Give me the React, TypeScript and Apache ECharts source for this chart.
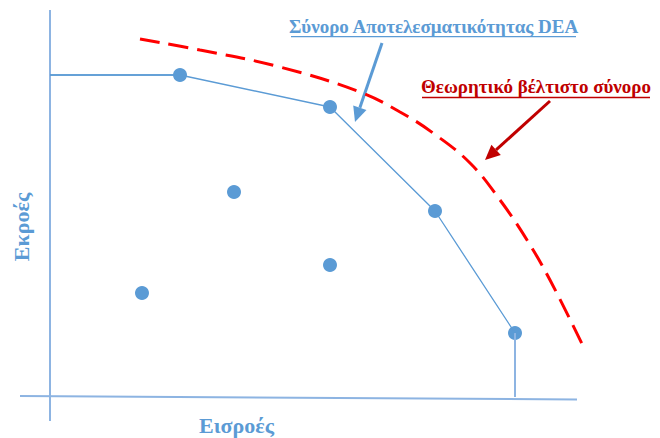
import React, { useEffect, useRef } from "react";
import * as echarts from "echarts";

// Conceptual units: origin at axes crossing
const axisVertical: [number, number][] = [[0, -4.8], [0, 77.4]];
const axisHorizontal: [number, number][] = [[-6, 0.2], [105.4, -0.5]];

const frontierLine: [number, number][] = [
  [0, 64.4], [26, 64.4], [56, 58], [77, 37.2], [93, 12.8], [93, 0],
];
const frontierUnits: [number, number][] = [
  [26, 64.4], [56, 58], [77, 37.2], [93, 12.8],
];
const otherUnits: [number, number][] = [
  [36.8, 41], [18.4, 20.8], [56, 26.4],
];
const theoreticalFrontier: [number, number][] = [
  [18, 71.6], [30, 69.4], [46, 66], [62, 61], [70, 57], [76.6, 52.8],
  [84, 46.8], [90, 39.4], [95.4, 31.4], [100, 23.4], [107, 9.4],
];

const labelDEA = "Σύνορο Αποτελεσματικότητας DEA";
const labelTheory = "Θεωρητικό βέλτιστο σύνορο";
const labelY = "Εκροές";
const labelX = "Εισροές";

const BLUE = "#5B9BD5";
const AXIS = "#8DB4E2";
const DARKRED = "#C00000";

function arrow(x1: number, y1: number, x2: number, y2: number, color: string, w: number, headLen: number, headW: number) {
  const dx = x2 - x1, dy = y2 - y1;
  const len = Math.sqrt(dx * dx + dy * dy);
  const ux = dx / len, uy = dy / len;
  const bx = x2 - ux * headLen, by = y2 - uy * headLen;
  const px = -uy * headW / 2, py = ux * headW / 2;
  return [
    { type: "line", shape: { x1, y1, x2: bx, y2: by }, style: { stroke: color, lineWidth: w } },
    { type: "polygon", shape: { points: [[x2, y2], [bx + px, by + py], [bx - px, by - py]] }, style: { fill: color } },
  ];
}

export default function App() {
  const ref = useRef<HTMLDivElement>(null);
  useEffect(() => {
    if (!ref.current) return;
    const chart = echarts.init(ref.current, undefined, { renderer: "svg" });
    const font = "bold 19px 'Liberation Serif', 'DejaVu Serif', serif";
    const axisFont = "bold 22px 'Liberation Serif', 'DejaVu Serif', serif";
    chart.setOption({
      animation: false,
      grid: { left: 20, right: 70, top: 9, bottom: 17 },
      xAxis: { type: "value", min: -6, max: 108, show: false },
      yAxis: { type: "value", min: -4.8, max: 77.6, show: false },
      series: [
        { type: "line", data: axisVertical, symbol: "none", lineStyle: { color: AXIS, width: 2 }, silent: true },
        { type: "line", data: axisHorizontal, symbol: "none", lineStyle: { color: AXIS, width: 2 }, silent: true },
        { type: "line", data: frontierLine.slice(4), symbol: "none", lineStyle: { color: AXIS, width: 2 }, silent: true },
        { type: "line", data: frontierLine.slice(0, 5), symbol: "none", lineStyle: { color: BLUE, width: 1.3 }, silent: true },
        { type: "line", data: frontierLine.slice(0, 2), symbol: "none", lineStyle: { color: BLUE, width: 1.3 }, silent: true },
        {
          type: "line", data: theoreticalFrontier, symbol: "none", smooth: 0.4,
          lineStyle: { color: "#FF0000", width: 3, type: [20, 9] }, silent: true,
        },
        { type: "scatter", data: frontierUnits, symbolSize: 14, itemStyle: { color: BLUE, opacity: 1 } },
        { type: "scatter", data: otherUnits, symbolSize: 14, itemStyle: { color: BLUE, opacity: 1 } },
      ],
      graphic: [
        { type: "text", x: 433.5, y: 35.5, style: { text: labelDEA, font, fill: BLUE, align: "center", verticalAlign: "bottom" } },
        { type: "line", shape: { x1: 291, y1: 36.7, x2: 576, y2: 36.7 }, style: { stroke: BLUE, lineWidth: 1.3 } },
        { type: "text", x: 536, y: 95.5, style: { text: labelTheory, font, fill: DARKRED, align: "center", verticalAlign: "bottom" } },
        { type: "line", shape: { x1: 422, y1: 97.5, x2: 650, y2: 97.5 }, style: { stroke: DARKRED, lineWidth: 1.3 } },
        ...arrow(382, 43, 355, 122, BLUE, 3, 15, 14),
        ...arrow(550, 101, 485, 160, DARKRED, 3, 15, 14),
        { type: "text", x: 21, y: 227, rotation: Math.PI / 2, style: { text: labelY, font: axisFont, fill: BLUE, align: "center", verticalAlign: "middle" } },
        { type: "text", x: 236.5, y: 425, style: { text: labelX, font: axisFont, fill: BLUE, align: "center", verticalAlign: "middle" } },
      ],
    });
    return () => chart.dispose();
  }, []);
  return <div ref={ref} style={{ width: 660, height: 438, position: "absolute", left: 0, top: 0 }} />;
}
